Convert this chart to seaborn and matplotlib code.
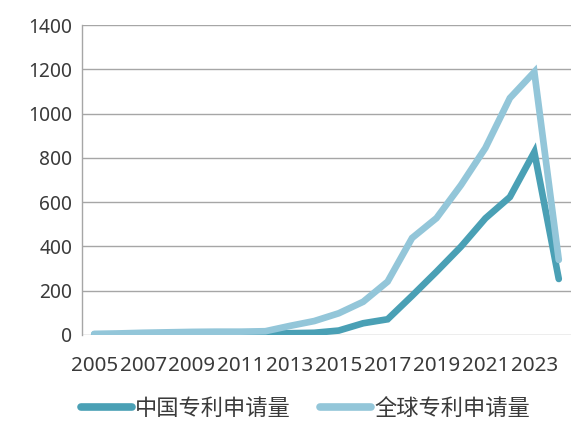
import matplotlib
matplotlib.use("Agg")
import matplotlib.pyplot as plt
import seaborn as sns
import pandas as pd

years = list(range(2005, 2025))
china = [2, 3, 4, 5, 5, 5, 5, 6, 8, 10, 20, 53, 71, 177, 286, 399, 527, 623, 826, 253]
world = [5, 7, 10, 12, 14, 15, 15, 17, 41, 63, 98, 150, 241, 438, 528, 677, 845, 1070, 1188, 339]
series_names = ["中国专利申请量", "全球专利申请量"]
colors = ["#4aa0b5", "#93c6d9"]
y_ticks = [0, 200, 400, 600, 800, 1000, 1200, 1400]

df = pd.DataFrame({
    "year": [str(y) for y in years] * 2,
    "value": china + world,
    "series": [series_names[0]] * len(years) + [series_names[1]] * len(years),
})
df["pos"] = list(range(len(years))) * 2

sns.set_theme(style="white")
plt.rcParams["font.family"] = ["Noto Sans", "Noto Sans CJK SC", "DejaVu Sans"]

fig = plt.figure(figsize=(5.71, 4.21), dpi=100)
ax = fig.add_axes([0.1436, 0.2043, 0.8564, 0.7363])

sns.lineplot(data=df, x="pos", y="value", hue="series", palette=colors,
             hue_order=series_names, linewidth=4.8, ax=ax, legend=False,
             solid_joinstyle="miter", solid_capstyle="round")

ax.set_xlim(-0.5, len(years) - 0.5)
ax.set_ylim(0, 1400)
ax.set_yticks(y_ticks)
ax.set_yticklabels([str(t) for t in y_ticks], fontsize=13.8, color="#3a3a3a")
ax.set_xticks(range(0, len(years), 2))
ax.set_xticklabels([str(y) for y in years[::2]], fontsize=14.8, color="#3a3a3a")
ax.tick_params(axis="both", length=0)
ax.tick_params(axis="x", pad=15)
ax.tick_params(axis="y", pad=7)
ax.set_xlabel("")
ax.set_ylabel("")
ax.grid(axis="y", color="#a6a6a6", linewidth=1)
ax.set_axisbelow(True)
for side in ["top", "right", "bottom"]:
    ax.spines[side].set_visible(False)
ax.spines["left"].set_color("#a6a6a6")
ax.spines["left"].set_linewidth(1)

handles = [plt.Line2D([0], [0], color=c, linewidth=5.5, solid_capstyle="round") for c in colors]
fig.legend(handles, series_names, loc="center", bbox_to_anchor=(0.535, 0.03),
           ncol=2, frameon=False, handlelength=2.3, handletextpad=0.15,
           columnspacing=1.3, labelcolor="#3a3a3a", borderpad=0.1,
           prop={"family": ["Noto Sans CJK SC", "DejaVu Sans"], "size": 16})

fig.savefig("out.png", dpi=100)
